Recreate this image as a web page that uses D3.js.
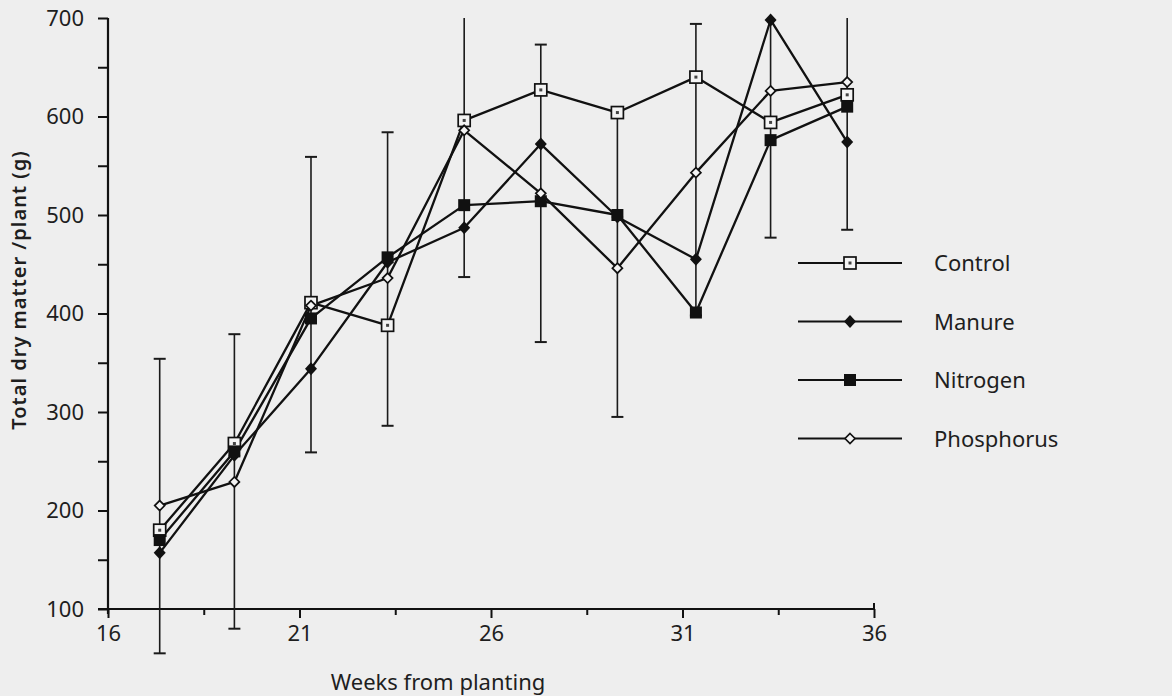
<!DOCTYPE html>
<html>
<head>
<meta charset="utf-8">
<script src="https://cdn.jsdelivr.net/npm/d3@7"></script>
<style>
  html, body { margin: 0; padding: 0; background: #eeeeee; }
  svg { display: block; }
  text { font-family: "Noto Sans", "Open Sans", sans-serif; fill: #1e1e1e; }
</style>
</head>
<body>
<svg id="chart" width="1172" height="696"></svg>
<script>
// weeks from planting (sampling dates)
const weeks = [17.35, 19.3, 21.3, 23.3, 25.3, 27.3, 29.3, 31.35, 33.3, 35.3];

// total dry matter per plant (g)
const control    = [180, 268, 411, 388, 596, 627, 604, 640, 594, 622];
const manure     = [157, 256, 344, 452, 487, 572, 498, 455, 698, 574];
const nitrogen   = [170, 260, 395, 457, 510, 514, 500, 401, 576, 610];
const phosphorus = [205, 229, 408, 436, 586, 522, 446, 543, 626, 635];

// error bar ends at each date
const errLow  = [55, 80, 259, 286, 437, 371, 295, 398, 477, 485];
const errHigh = [354, 379, 559, 584, 735, 673, 600, 694, 776, 785];

const seriesNames = ["Control", "Manure", "Nitrogen", "Phosphorus"];
const seriesValues = [control, manure, nitrogen, phosphorus];
const markerTypes = ["openSquare", "filledDiamond", "filledSquare", "openDiamond"];

const yTicks = [100, 150, 200, 250, 300, 350, 400, 450, 500, 550, 600, 650, 700];
const xMajorTicks = [16, 21, 26, 31, 36];
const xMinorTicks = [18.5, 23.5, 28.5, 33.5];

const svg = d3.select("#chart");

svg.append("rect")
  .attr("width", 1172).attr("height", 696)
  .attr("fill", "#eeeeee");

const x = d3.scaleLinear().domain([16, 36]).range([108, 874]);
const y = d3.scaleLinear().domain([100, 700]).range([609, 18]);

// clip only the top of the plot (bars run past 700)
svg.append("defs").append("clipPath")
  .attr("id", "topclip")
  .append("rect")
  .attr("x", 0).attr("y", y(700))
  .attr("width", 1172).attr("height", 696);

// axes
const yAxis = svg.append("g")
  .attr("transform", `translate(${x(16)},0)`)
  .call(d3.axisLeft(y)
    .tickValues(yTicks)
    .tickFormat(d => d % 100 === 0 ? d : "")
    .tickSize(10)
    .tickPadding(14));
yAxis.select(".domain").remove();
yAxis.selectAll(".tick line").attr("stroke", "#111").attr("stroke-width", 2);
yAxis.selectAll(".tick text")
  .style("font-size", "22px")
  .style("font-family", "'Noto Sans', sans-serif")
  .attr("fill", "#1e1e1e");

const xAxis = svg.append("g")
  .attr("transform", `translate(0,${y(100)})`)
  .call(d3.axisBottom(x)
    .tickValues(xMajorTicks)
    .tickFormat(d3.format("d"))
    .tickSize(9)
    .tickPadding(7));
xAxis.select(".domain").remove();
xAxis.selectAll(".tick line").attr("stroke", "#111").attr("stroke-width", 2);
xAxis.selectAll(".tick text")
  .style("font-size", "22px")
  .style("font-family", "'Noto Sans', sans-serif")
  .attr("fill", "#1e1e1e");

const xMinor = svg.append("g")
  .attr("transform", `translate(0,${y(100)})`)
  .call(d3.axisBottom(x).tickValues(xMinorTicks).tickFormat("").tickSize(6));
xMinor.select(".domain").remove();
xMinor.selectAll(".tick line").attr("stroke", "#111").attr("stroke-width", 2);

// axis lines
svg.append("line")
  .attr("x1", x(16) - 10).attr("x2", x(36))
  .attr("y1", y(100)).attr("y2", y(100))
  .attr("stroke", "#111").attr("stroke-width", 2.2);
svg.append("line")
  .attr("x1", x(16)).attr("x2", x(16))
  .attr("y1", y(700)).attr("y2", y(100) + 5)
  .attr("stroke", "#111").attr("stroke-width", 2.2);
svg.append("line")
  .attr("x1", x(36)).attr("x2", x(36))
  .attr("y1", y(100) - 6).attr("y2", y(100))
  .attr("stroke", "#111").attr("stroke-width", 2);

// error bars
const bars = svg.append("g").attr("clip-path", "url(#topclip)");
weeks.forEach((w, i) => {
  bars.append("line")
    .attr("x1", x(w)).attr("x2", x(w))
    .attr("y1", y(errLow[i])).attr("y2", y(errHigh[i]))
    .attr("stroke", "#1a1a1a").attr("stroke-width", 1.6);
  [errLow[i], errHigh[i]].forEach(v => {
    if (v > 700) return;
    bars.append("line")
      .attr("x1", x(w) - 6).attr("x2", x(w) + 6)
      .attr("y1", y(v)).attr("y2", y(v))
      .attr("stroke", "#1a1a1a").attr("stroke-width", 2);
  });
});

// series lines
const line = d3.line().x((d, i) => x(weeks[i])).y(d => y(d));
seriesValues.forEach(vals => {
  svg.append("path")
    .attr("d", line(vals))
    .attr("fill", "none")
    .attr("stroke", "#111")
    .attr("stroke-width", 2.3)
    .attr("stroke-linejoin", "round");
});

function drawMarker(g, type, cx, cy) {
  if (type === "openSquare") {
    g.append("rect")
      .attr("x", cx - 6).attr("y", cy - 6).attr("width", 12).attr("height", 12)
      .attr("fill", "#f4f4f4").attr("stroke", "#111").attr("stroke-width", 1.7);
    g.append("rect")
      .attr("x", cx - 1.5).attr("y", cy - 1.5).attr("width", 3).attr("height", 3)
      .attr("fill", "#444");
  } else if (type === "filledSquare") {
    g.append("rect")
      .attr("x", cx - 6).attr("y", cy - 6).attr("width", 12).attr("height", 12)
      .attr("fill", "#111");
  } else if (type === "filledDiamond") {
    g.append("path")
      .attr("d", `M${cx},${cy - 6.5}L${cx + 6},${cy}L${cx},${cy + 6.5}L${cx - 6},${cy}Z`)
      .attr("fill", "#111");
  } else {
    g.append("path")
      .attr("d", `M${cx},${cy - 5}L${cx + 5},${cy}L${cx},${cy + 5}L${cx - 5},${cy}Z`)
      .attr("fill", "#f4f4f4").attr("stroke", "#111").attr("stroke-width", 1.7);
  }
}

const markers = svg.append("g");
seriesValues.forEach((vals, s) => {
  vals.forEach((v, i) => drawMarker(markers, markerTypes[s], x(weeks[i]), y(v)));
});

// legend
const legend = svg.append("g");
seriesNames.forEach((name, i) => {
  const ly = 263 + i * 58.5;
  legend.append("line")
    .attr("x1", 798).attr("x2", 902)
    .attr("y1", ly).attr("y2", ly)
    .attr("stroke", "#111").attr("stroke-width", 2.2);
  drawMarker(legend, markerTypes[i], 850, ly);
  legend.append("text")
    .attr("x", 934).attr("y", ly + 8)
    .style("font-size", "22px")
    .text(name);
});

// axis titles
svg.append("text")
  .attr("x", 438).attr("y", 690)
  .attr("text-anchor", "middle")
  .style("font-size", "22px")
  .text("Weeks from planting");

svg.append("text")
  .attr("transform", "translate(26,290) rotate(-90)")
  .attr("text-anchor", "middle")
  .style("font-size", "20px")
  .style("font-weight", "600")
  .style("letter-spacing", "1px")
  .text("Total dry matter /plant (g)");
</script>
</body>
</html>
